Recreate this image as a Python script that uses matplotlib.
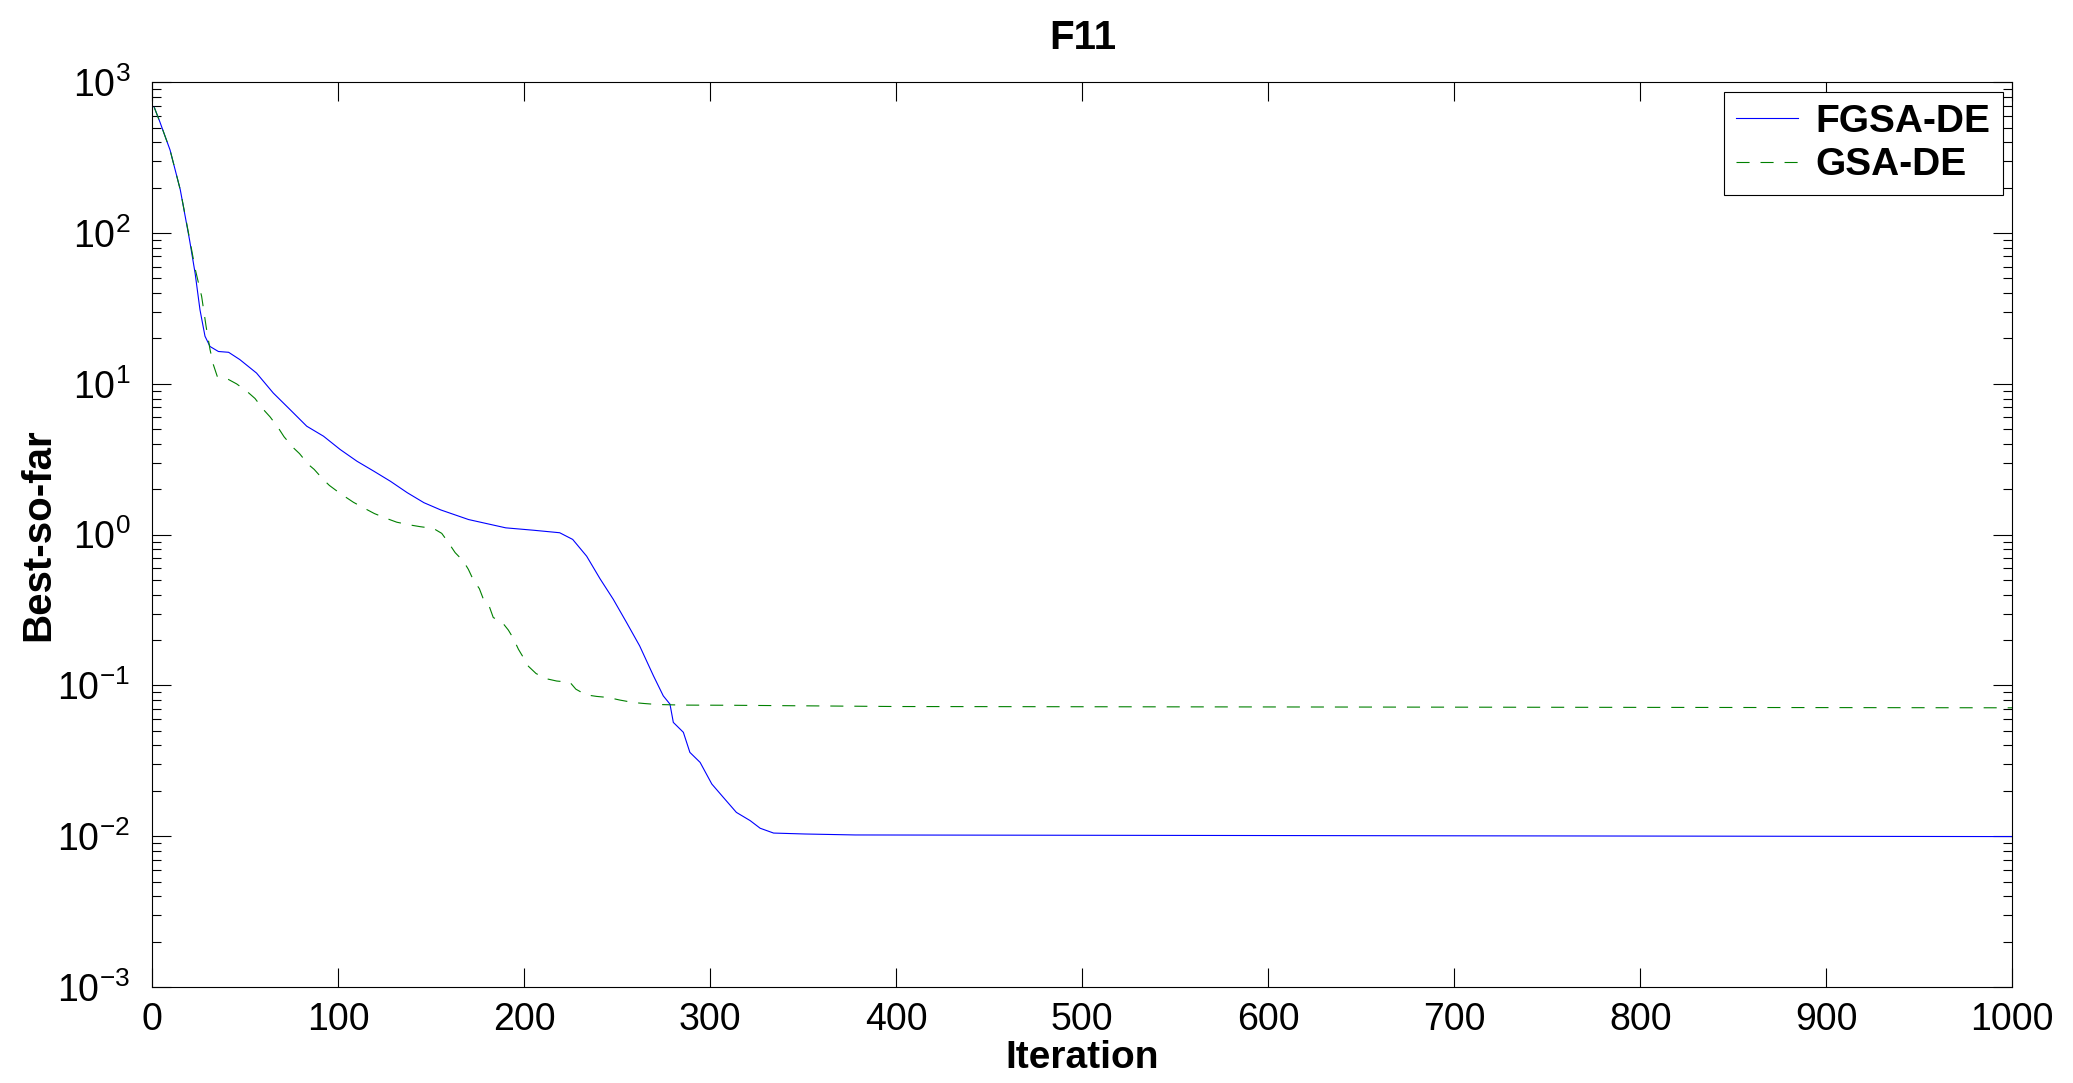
import matplotlib
matplotlib.use("Agg")
import matplotlib.pyplot as plt
from matplotlib.ticker import LogLocator, MultipleLocator, NullLocator

# best-so-far curves
fgsa_iter = [1, 4, 9.5, 15, 20, 23, 25.6, 28.3, 31, 35.5, 41, 47, 56, 65, 74,
             83, 92, 101, 110, 119, 128, 137, 146, 155, 170, 190, 205, 219,
             226, 233.5, 240.7, 247.8, 255, 262, 269.4, 274.7, 278.3, 280.1,
             285.5, 289, 294.5, 300.8, 307, 314, 321.4, 326.8, 334, 351, 378,
             1000]
fgsa_val = [683, 548, 356, 194, 90, 54, 31, 20.7, 17.7, 16.4, 16.2, 14.5, 11.8,
            8.7, 6.76, 5.24, 4.5, 3.67, 3.07, 2.64, 2.26, 1.9, 1.63, 1.46, 1.26,
            1.11, 1.07, 1.03, 0.93, 0.72, 0.51, 0.373, 0.261, 0.183, 0.116,
            0.0853, 0.0752, 0.0569, 0.0489, 0.036, 0.0309, 0.0222, 0.0181,
            0.0144, 0.0127, 0.0113, 0.0105, 0.01035, 0.0102, 0.00995]

gsa_iter = [1, 4, 9.5, 15, 20, 23, 26.5, 28.9, 31, 32.8, 34.9, 40.9, 45.3, 50.8,
            55.2, 59.7, 63.3, 67.7, 70.8, 75.8, 79.1, 83.9, 87, 91.9, 95.2,
            100.9, 108.1, 114.3, 119.4, 126, 131.4, 138.5, 144, 151.1, 155.6,
            159.2, 162.8, 167.2, 169.9, 172.6, 175.8, 178, 181.2, 183.3, 187.8,
            191.4, 194.1, 196.8, 199.5, 202.2, 206.3, 211.6, 217.4, 224.5,
            227.7, 233.1, 238.9, 245.2, 251.4, 258.6, 264, 271.2, 285.5, 312,
            400, 1000]
gsa_val = [683, 548, 356, 194, 92, 58, 38, 24, 16.9, 13.4, 11.2, 10.7, 10.0,
           8.93, 8.0, 6.76, 6.04, 5.11, 4.46, 3.77, 3.45, 2.92, 2.71, 2.32, 2.12,
           1.88, 1.64, 1.49, 1.38, 1.28, 1.21, 1.16, 1.13, 1.10, 1.02, 0.885,
           0.76, 0.668, 0.589, 0.50, 0.439, 0.373, 0.333, 0.282, 0.265, 0.233,
           0.205, 0.174, 0.153, 0.134, 0.120, 0.111, 0.107, 0.105, 0.0945,
           0.0867, 0.0846, 0.0832, 0.080, 0.0771, 0.076, 0.0748, 0.0741, 0.0739,
           0.0725, 0.0711]

plt.rcParams['font.family'] = ['Liberation Sans', 'DejaVu Sans']
plt.rcParams['mathtext.fontset'] = 'custom'
plt.rcParams['mathtext.rm'] = 'Liberation Sans'
plt.rcParams['mathtext.default'] = 'regular'
plt.rcParams['lines.scale_dashes'] = False

fig = plt.figure(figsize=(20.73, 10.83), dpi=100)
ax = fig.add_axes([0.0735, 0.0886, 0.8972, 0.8354])

ax.plot(fgsa_iter, fgsa_val, color=(0, 0, 1), lw=0.8, label='FGSA-DE')
ax.plot(gsa_iter, gsa_val, color=(0, 0.5, 0), lw=0.8, dashes=(9.4, 7.9),
        label='GSA-DE')

ax.set_yscale('log')
ax.set_xlim(0, 1000)
ax.set_ylim(1e-3, 1e3)
ax.xaxis.set_major_locator(MultipleLocator(100))
ax.xaxis.set_minor_locator(NullLocator())
ax.yaxis.set_major_locator(LogLocator(base=10, numticks=10))
ax.yaxis.set_minor_locator(LogLocator(base=10, subs=range(2, 10), numticks=20))

for s in ax.spines.values():
    s.set_linewidth(0.8)
ax.tick_params(which='both', direction='in', top=True, right=True, width=0.8)
ax.tick_params(which='major', length=13.5)
ax.tick_params(which='minor', length=6.8)
ax.tick_params(axis='x', labelsize=27, pad=11)
ax.tick_params(axis='y', labelsize=27, pad=16)

ax.set_xlabel('Iteration', fontsize=28, fontweight='bold', labelpad=1.5)
ax.set_ylabel('Best-so-far', fontsize=29, fontweight='bold', labelpad=0)
ax.set_title('F11', fontsize=29, fontweight='bold', pad=24)

leg = ax.legend(loc='upper right', prop={'size': 28, 'weight': 'bold'},
                fancybox=False, framealpha=1, edgecolor='black',
                handlelength=1.6, handletextpad=0.45, borderpad=0.3,
                labelspacing=0.2, borderaxespad=0.25)
leg.get_frame().set_linewidth(0.8)

fig.savefig('out.png', dpi=100)
